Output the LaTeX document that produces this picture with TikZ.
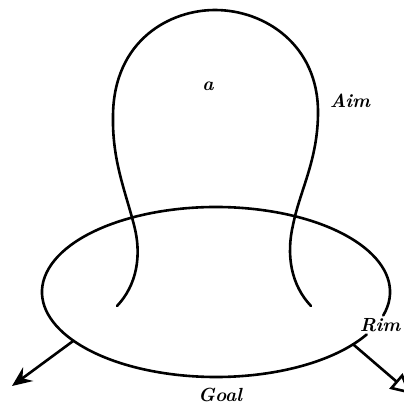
\documentclass[tikz,border=0pt]{standalone}
\usetikzlibrary{arrows.meta,calc}
\begin{document}
\begin{tikzpicture}[x=1pt,y=-1pt,
  curve/.style={line width=2.6pt, line cap=round},
  lbl/.style={font=\fontsize{19}{22}\selectfont\bfseries\itshape, inner sep=0pt}]
\useasboundingbox (0,0) rectangle (404,404);
\clip (0,0) rectangle (404,404);
% Goal ellipse with a gap at Rim
\coordinate (C) at (216,292);
\draw[curve] ($(C)+(16:174 and 85)$) arc[start angle=16, end angle=-330, x radius=174, y radius=85];
% Aim loop
\draw[curve] (117,306) .. controls (137,285) and (142,255) .. (134,225)
  .. controls (125,190) and (112,160) .. (113,115)
  .. controls (114,40) and (170,10) .. (215,10)
  .. controls (265,10) and (318,45) .. (318,112)
  .. controls (318,160) and (300,190) .. (293,225)
  .. controls (286,255) and (291,285) .. (311,306);
% arrows
\coordinate (L) at ($(C)+(145:174 and 85)$);
\coordinate (Lend) at (12,386);
\coordinate (R) at ($(C)+(38:174 and 85)$);
\coordinate (Rend) at (411,394);
\draw[curve, -{Stealth[length=20pt, width=17pt, inset=7pt]}] (L) -- (Lend);
\draw[curve, -{Triangle[open, length=20pt, width=20pt]}] (R) -- (Rend);
% labels
\node[lbl] (a) at (208,86) {a};
\node[lbl] (aim) at (350,101) {Aim};
\node[lbl] (rim) at (380,325) {Rim};
\node[lbl] (goal) at (220,395) {Goal};
\end{tikzpicture}
\end{document}
